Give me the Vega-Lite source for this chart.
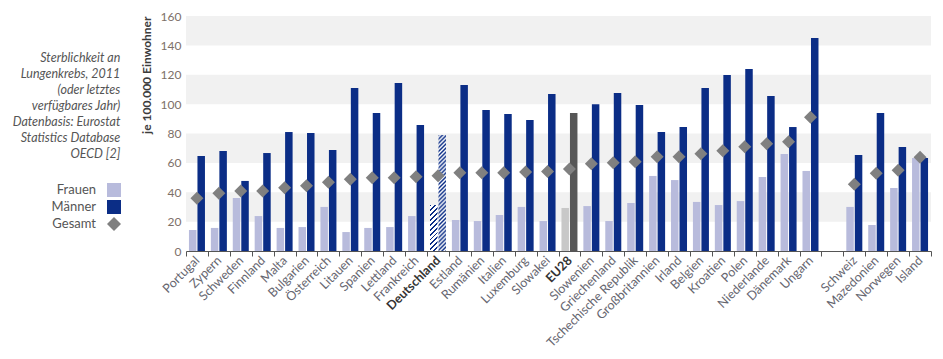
{
  "$schema": "https://vega.github.io/schema/vega-lite/v6.json",
  "autosize": "none",
  "width": 745,
  "height": 235,
  "padding": {"left": 186, "top": 16, "right": 12, "bottom": 108},
  "background": "white",
  "title": {
    "text": ["Sterblichkeit an", "Lungenkrebs, 2011", "(oder letztes", "verfügbares Jahr)", "Datenbasis: Eurostat", "Statistics Database", "OECD [2]"],
    "orient": "left",
    "angle": 0,
    "anchor": "end",
    "align": "right",
    "baseline": "top",
    "offset": 20,
    "font": "Lato",
    "fontStyle": "italic",
    "fontWeight": "normal",
    "fontSize": 12.5,
    "color": "#555555",
    "lineHeight": 16,
    "limit": 0,
    "dx": 141,
    "dy": 42
  },
  "datasets": {
    "werte": [
      {"land": "Portugal", "reihe": "Frauen", "wert": 14.3}, {"land": "Portugal", "reihe": "Männer", "wert": 64.7}, {"land": "Portugal", "reihe": "Gesamt", "wert": 35.9},
      {"land": "Zypern", "reihe": "Frauen", "wert": 15.7}, {"land": "Zypern", "reihe": "Männer", "wert": 68.1}, {"land": "Zypern", "reihe": "Gesamt", "wert": 39.3},
      {"land": "Schweden", "reihe": "Frauen", "wert": 36.1}, {"land": "Schweden", "reihe": "Männer", "wert": 47.7}, {"land": "Schweden", "reihe": "Gesamt", "wert": 40.8},
      {"land": "Finnland", "reihe": "Frauen", "wert": 23.8}, {"land": "Finnland", "reihe": "Männer", "wert": 66.7}, {"land": "Finnland", "reihe": "Gesamt", "wert": 40.8},
      {"land": "Malta", "reihe": "Frauen", "wert": 15.7}, {"land": "Malta", "reihe": "Männer", "wert": 81.0}, {"land": "Malta", "reihe": "Gesamt", "wert": 43.1},
      {"land": "Bulgarien", "reihe": "Frauen", "wert": 16.3}, {"land": "Bulgarien", "reihe": "Männer", "wert": 80.3}, {"land": "Bulgarien", "reihe": "Gesamt", "wert": 44.5},
      {"land": "Österreich", "reihe": "Frauen", "wert": 30.0}, {"land": "Österreich", "reihe": "Männer", "wert": 68.8}, {"land": "Österreich", "reihe": "Gesamt", "wert": 46.8},
      {"land": "Litauen", "reihe": "Frauen", "wert": 12.9}, {"land": "Litauen", "reihe": "Männer", "wert": 111.0}, {"land": "Litauen", "reihe": "Gesamt", "wert": 48.8},
      {"land": "Spanien", "reihe": "Frauen", "wert": 15.7}, {"land": "Spanien", "reihe": "Männer", "wert": 94.0}, {"land": "Spanien", "reihe": "Gesamt", "wert": 49.9},
      {"land": "Lettland", "reihe": "Frauen", "wert": 16.3}, {"land": "Lettland", "reihe": "Männer", "wert": 114.4}, {"land": "Lettland", "reihe": "Gesamt", "wert": 49.9},
      {"land": "Frankreich", "reihe": "Frauen", "wert": 23.8}, {"land": "Frankreich", "reihe": "Männer", "wert": 85.8}, {"land": "Frankreich", "reihe": "Gesamt", "wert": 50.6},
      {"land": "Deutschland", "reihe": "Frauen", "wert": 31.3}, {"land": "Deutschland", "reihe": "Männer", "wert": 79.0}, {"land": "Deutschland", "reihe": "Gesamt", "wert": 51.3},
      {"land": "Estland", "reihe": "Frauen", "wert": 21.1}, {"land": "Estland", "reihe": "Männer", "wert": 113.0}, {"land": "Estland", "reihe": "Gesamt", "wert": 53.3},
      {"land": "Rumänien", "reihe": "Frauen", "wert": 20.4}, {"land": "Rumänien", "reihe": "Männer", "wert": 96.0}, {"land": "Rumänien", "reihe": "Gesamt", "wert": 53.3},
      {"land": "Italien", "reihe": "Frauen", "wert": 24.5}, {"land": "Italien", "reihe": "Männer", "wert": 93.3}, {"land": "Italien", "reihe": "Gesamt", "wert": 53.3},
      {"land": "Luxemburg", "reihe": "Frauen", "wert": 30.0}, {"land": "Luxemburg", "reihe": "Männer", "wert": 89.2}, {"land": "Luxemburg", "reihe": "Gesamt", "wert": 53.8},
      {"land": "Slowakei", "reihe": "Frauen", "wert": 20.4}, {"land": "Slowakei", "reihe": "Männer", "wert": 106.9}, {"land": "Slowakei", "reihe": "Gesamt", "wert": 54.2},
      {"land": "EU28", "reihe": "Frauen", "wert": 29.3}, {"land": "EU28", "reihe": "Männer", "wert": 94.0}, {"land": "EU28", "reihe": "Gesamt", "wert": 55.8},
      {"land": "Slowenien", "reihe": "Frauen", "wert": 30.6}, {"land": "Slowenien", "reihe": "Männer", "wert": 100.0}, {"land": "Slowenien", "reihe": "Gesamt", "wert": 59.4},
      {"land": "Griechenland", "reihe": "Frauen", "wert": 20.4}, {"land": "Griechenland", "reihe": "Männer", "wert": 107.6}, {"land": "Griechenland", "reihe": "Gesamt", "wert": 60.1},
      {"land": "Tschechische Republik", "reihe": "Frauen", "wert": 32.7}, {"land": "Tschechische Republik", "reihe": "Männer", "wert": 99.4}, {"land": "Tschechische Republik", "reihe": "Gesamt", "wert": 60.8},
      {"land": "Großbritannien", "reihe": "Frauen", "wert": 51.1}, {"land": "Großbritannien", "reihe": "Männer", "wert": 81.0}, {"land": "Großbritannien", "reihe": "Gesamt", "wert": 64.2},
      {"land": "Irland", "reihe": "Frauen", "wert": 48.3}, {"land": "Irland", "reihe": "Männer", "wert": 84.4}, {"land": "Irland", "reihe": "Gesamt", "wert": 64.2},
      {"land": "Belgien", "reihe": "Frauen", "wert": 33.4}, {"land": "Belgien", "reihe": "Männer", "wert": 111.0}, {"land": "Belgien", "reihe": "Gesamt", "wert": 66.2},
      {"land": "Kroatien", "reihe": "Frauen", "wert": 31.3}, {"land": "Kroatien", "reihe": "Männer", "wert": 119.8}, {"land": "Kroatien", "reihe": "Gesamt", "wert": 68.3},
      {"land": "Polen", "reihe": "Frauen", "wert": 34.0}, {"land": "Polen", "reihe": "Männer", "wert": 123.9}, {"land": "Polen", "reihe": "Gesamt", "wert": 71.0},
      {"land": "Niederlande", "reihe": "Frauen", "wert": 50.4}, {"land": "Niederlande", "reihe": "Männer", "wert": 105.5}, {"land": "Niederlande", "reihe": "Gesamt", "wert": 73.0},
      {"land": "Dänemark", "reihe": "Frauen", "wert": 66.0}, {"land": "Dänemark", "reihe": "Männer", "wert": 84.4}, {"land": "Dänemark", "reihe": "Gesamt", "wert": 74.4},
      {"land": "Ungarn", "reihe": "Frauen", "wert": 54.5}, {"land": "Ungarn", "reihe": "Männer", "wert": 145.0}, {"land": "Ungarn", "reihe": "Gesamt", "wert": 91.0},
      {"land": "Schweiz", "reihe": "Frauen", "wert": 30.0}, {"land": "Schweiz", "reihe": "Männer", "wert": 65.4}, {"land": "Schweiz", "reihe": "Gesamt", "wert": 45.4},
      {"land": "Mazedonien", "reihe": "Frauen", "wert": 17.7}, {"land": "Mazedonien", "reihe": "Männer", "wert": 94.0}, {"land": "Mazedonien", "reihe": "Gesamt", "wert": 52.9},
      {"land": "Norwegen", "reihe": "Frauen", "wert": 42.9}, {"land": "Norwegen", "reihe": "Männer", "wert": 70.8}, {"land": "Norwegen", "reihe": "Gesamt", "wert": 54.9},
      {"land": "Island", "reihe": "Frauen", "wert": 63.3}, {"land": "Island", "reihe": "Männer", "wert": 63.3}, {"land": "Island", "reihe": "Gesamt", "wert": 63.8}
    ]
  },
  "layer": [
    {
      "data": {"values": [{"von": 20, "bis": 40}, {"von": 60, "bis": 80}, {"von": 100, "bis": 120}, {"von": 140, "bis": 160}]},
      "mark": {"type": "rect", "color": "#f1f1f1"},
      "encoding": {
        "y": {"field": "von", "type": "quantitative", "scale": {"domain": [0, 160], "nice": false}, "title": "je 100.000 Einwohner"},
        "y2": {"field": "bis"}
      }
    },
    {
      "data": {"name": "werte"},
      "transform": [{"filter": "datum.reihe !== 'Gesamt' && datum.land !== 'Deutschland' && datum.land !== 'EU28'"}],
      "mark": {"type": "bar"},
      "encoding": {
        "x": {
          "field": "land", "type": "nominal", "title": null,
          "scale": {"domain": ["Portugal", "Zypern", "Schweden", "Finnland", "Malta", "Bulgarien", "Österreich", "Litauen", "Spanien", "Lettland", "Frankreich", "Deutschland", "Estland", "Rumänien", "Italien", "Luxemburg", "Slowakei", "EU28", "Slowenien", "Griechenland", "Tschechische Republik", "Großbritannien", "Irland", "Belgien", "Kroatien", "Polen", "Niederlande", "Dänemark", "Ungarn", " ", "Schweiz", "Mazedonien", "Norwegen", "Island"], "paddingInner": 0, "paddingOuter": 0},
          "axis": {
            "labelFontWeight": {"condition": {"test": "datum.value === 'Deutschland' || datum.value === 'EU28'", "value": "bold"}, "value": "normal"},
            "labelColor": {"condition": {"test": "datum.value === 'Deutschland' || datum.value === 'EU28'", "value": "#333333"}, "value": "#666670"}
          }
        },
        "xOffset": {"field": "reihe", "type": "nominal", "scale": {"domain": ["Frauen", "Männer"], "paddingInner": 0.118, "paddingOuter": 0.347}},
        "y": {"field": "wert", "type": "quantitative", "title": "je 100.000 Einwohner"},
        "color": {
          "field": "reihe", "type": "nominal",
          "scale": {"domain": ["Frauen", "Männer", "Gesamt"], "range": ["#b8bbdc", "#0b2d86", "#808080"]},
          "legend": {
            "orient": "none", "legendX": -79, "legendY": 167, "title": null,
            "values": ["Frauen", "Männer", "Gesamt"],
            "symbolType": "square", "symbolSize": 196, "symbolStrokeWidth": 0, "symbolOpacity": 1,
            "labelAlign": "right", "labelOffset": -25, "labelFontSize": 13, "labelColor": "#555555", "labelFont": "Lato",
            "rowPadding": 3, "padding": 0,
            "encode": {"symbols": {"update": {"shape": {"signal": "datum.value === 'Gesamt' ? 'diamond' : 'square'"}}}}
          }
        }
      }
    },
    {
      "data": {"name": "werte"},
      "transform": [{"filter": "datum.reihe !== 'Gesamt' && datum.land === 'EU28'"}],
      "mark": {"type": "bar"},
      "encoding": {
        "x": {"field": "land", "type": "nominal", "title": null},
        "xOffset": {"field": "reihe", "type": "nominal"},
        "y": {"field": "wert", "type": "quantitative", "title": "je 100.000 Einwohner"},
        "color": {"condition": {"test": "datum.reihe === 'Frauen'", "value": "#c8c8c8"}, "value": "#575757"}
      }
    },
    {
      "data": {"name": "werte"},
      "transform": [{"filter": "datum.reihe === 'Frauen' && datum.land === 'Deutschland'"}],
      "mark": {"type": "bar", "color": {"gradient": "linear", "x1": 0, "y1": 0, "x2": 0.185, "y2": 1.133, "stops": [
        {"offset": 0, "color": "#0b2d86"}, {"offset": 0.0364, "color": "#0b2d86"}, {"offset": 0.0364, "color": "#ffffff"}, {"offset": 0.0909, "color": "#ffffff"},
        {"offset": 0.0909, "color": "#0b2d86"}, {"offset": 0.1273, "color": "#0b2d86"}, {"offset": 0.1273, "color": "#ffffff"}, {"offset": 0.1818, "color": "#ffffff"},
        {"offset": 0.1818, "color": "#0b2d86"}, {"offset": 0.2182, "color": "#0b2d86"}, {"offset": 0.2182, "color": "#ffffff"}, {"offset": 0.2727, "color": "#ffffff"},
        {"offset": 0.2727, "color": "#0b2d86"}, {"offset": 0.3091, "color": "#0b2d86"}, {"offset": 0.3091, "color": "#ffffff"}, {"offset": 0.3636, "color": "#ffffff"},
        {"offset": 0.3636, "color": "#0b2d86"}, {"offset": 0.4, "color": "#0b2d86"}, {"offset": 0.4, "color": "#ffffff"}, {"offset": 0.4545, "color": "#ffffff"},
        {"offset": 0.4545, "color": "#0b2d86"}, {"offset": 0.4909, "color": "#0b2d86"}, {"offset": 0.4909, "color": "#ffffff"}, {"offset": 0.5455, "color": "#ffffff"},
        {"offset": 0.5455, "color": "#0b2d86"}, {"offset": 0.5818, "color": "#0b2d86"}, {"offset": 0.5818, "color": "#ffffff"}, {"offset": 0.6364, "color": "#ffffff"},
        {"offset": 0.6364, "color": "#0b2d86"}, {"offset": 0.6727, "color": "#0b2d86"}, {"offset": 0.6727, "color": "#ffffff"}, {"offset": 0.7273, "color": "#ffffff"},
        {"offset": 0.7273, "color": "#0b2d86"}, {"offset": 0.7636, "color": "#0b2d86"}, {"offset": 0.7636, "color": "#ffffff"}, {"offset": 0.8182, "color": "#ffffff"},
        {"offset": 0.8182, "color": "#0b2d86"}, {"offset": 0.8545, "color": "#0b2d86"}, {"offset": 0.8545, "color": "#ffffff"}, {"offset": 0.9091, "color": "#ffffff"},
        {"offset": 0.9091, "color": "#0b2d86"}, {"offset": 0.9455, "color": "#0b2d86"}, {"offset": 0.9455, "color": "#ffffff"}, {"offset": 1, "color": "#ffffff"}
      ]}},
      "encoding": {
        "x": {"field": "land", "type": "nominal", "title": null},
        "xOffset": {"field": "reihe", "type": "nominal"},
        "y": {"field": "wert", "type": "quantitative", "title": "je 100.000 Einwohner"}
      }
    },
    {
      "data": {"name": "werte"},
      "transform": [{"filter": "datum.reihe === 'Männer' && datum.land === 'Deutschland'"}],
      "mark": {"type": "bar", "color": {"gradient": "linear", "x1": 0, "y1": 0, "x2": 0.0686, "y2": 1.0603, "stops": [
        {"offset": 0, "color": "#0b2d86"}, {"offset": 0.0167, "color": "#ffffff"}, {"offset": 0.0333, "color": "#0b2d86"}, {"offset": 0.05, "color": "#ffffff"},
        {"offset": 0.0667, "color": "#0b2d86"}, {"offset": 0.0833, "color": "#ffffff"}, {"offset": 0.1, "color": "#0b2d86"}, {"offset": 0.1167, "color": "#ffffff"},
        {"offset": 0.1333, "color": "#0b2d86"}, {"offset": 0.15, "color": "#ffffff"}, {"offset": 0.1667, "color": "#0b2d86"}, {"offset": 0.1833, "color": "#ffffff"},
        {"offset": 0.2, "color": "#0b2d86"}, {"offset": 0.2167, "color": "#ffffff"}, {"offset": 0.2333, "color": "#0b2d86"}, {"offset": 0.25, "color": "#ffffff"},
        {"offset": 0.2667, "color": "#0b2d86"}, {"offset": 0.2833, "color": "#ffffff"}, {"offset": 0.3, "color": "#0b2d86"}, {"offset": 0.3167, "color": "#ffffff"},
        {"offset": 0.3333, "color": "#0b2d86"}, {"offset": 0.35, "color": "#ffffff"}, {"offset": 0.3667, "color": "#0b2d86"}, {"offset": 0.3833, "color": "#ffffff"},
        {"offset": 0.4, "color": "#0b2d86"}, {"offset": 0.4167, "color": "#ffffff"}, {"offset": 0.4333, "color": "#0b2d86"}, {"offset": 0.45, "color": "#ffffff"},
        {"offset": 0.4667, "color": "#0b2d86"}, {"offset": 0.4833, "color": "#ffffff"}, {"offset": 0.5, "color": "#0b2d86"}, {"offset": 0.5167, "color": "#ffffff"},
        {"offset": 0.5333, "color": "#0b2d86"}, {"offset": 0.55, "color": "#ffffff"}, {"offset": 0.5667, "color": "#0b2d86"}, {"offset": 0.5833, "color": "#ffffff"},
        {"offset": 0.6, "color": "#0b2d86"}, {"offset": 0.6167, "color": "#ffffff"}, {"offset": 0.6333, "color": "#0b2d86"}, {"offset": 0.65, "color": "#ffffff"},
        {"offset": 0.6667, "color": "#0b2d86"}, {"offset": 0.6833, "color": "#ffffff"}, {"offset": 0.7, "color": "#0b2d86"}, {"offset": 0.7167, "color": "#ffffff"},
        {"offset": 0.7333, "color": "#0b2d86"}, {"offset": 0.75, "color": "#ffffff"}, {"offset": 0.7667, "color": "#0b2d86"}, {"offset": 0.7833, "color": "#ffffff"},
        {"offset": 0.8, "color": "#0b2d86"}, {"offset": 0.8167, "color": "#ffffff"}, {"offset": 0.8333, "color": "#0b2d86"}, {"offset": 0.85, "color": "#ffffff"},
        {"offset": 0.8667, "color": "#0b2d86"}, {"offset": 0.8833, "color": "#ffffff"}, {"offset": 0.9, "color": "#0b2d86"}, {"offset": 0.9167, "color": "#ffffff"},
        {"offset": 0.9333, "color": "#0b2d86"}, {"offset": 0.95, "color": "#ffffff"}, {"offset": 0.9667, "color": "#0b2d86"}, {"offset": 0.9833, "color": "#ffffff"},
        {"offset": 1, "color": "#0b2d86"}
      ]}},
      "encoding": {
        "x": {"field": "land", "type": "nominal", "title": null},
        "xOffset": {"field": "reihe", "type": "nominal"},
        "y": {"field": "wert", "type": "quantitative", "title": "je 100.000 Einwohner"}
      }
    },
    {
      "data": {"name": "werte"},
      "transform": [{"filter": "datum.reihe === 'Gesamt'"}],
      "mark": {"type": "point", "shape": "diamond", "filled": true, "size": 169, "opacity": 1},
      "encoding": {
        "x": {"field": "land", "type": "nominal", "title": null},
        "y": {"field": "wert", "type": "quantitative", "title": "je 100.000 Einwohner"},
        "color": {"field": "reihe", "type": "nominal"}
      }
    }
  ],
  "config": {
    "font": "Lato",
    "view": {"stroke": null},
    "axisX": {
      "labelAngle": -45, "labelAlign": "right", "labelBaseline": "middle", "labelFont": "Lato", "labelFontSize": 12.5,
      "labelPadding": 2, "domainColor": "#555555", "tickColor": "#555555", "tickSize": 5, "tickBand": "extent", "grid": false
    },
    "axisY": {
      "values": [0, 20, 40, 60, 80, 100, 120, 140, 160],
      "labelFont": "Lato", "labelFontSize": 12, "labelColor": "#7d7068", "labelPadding": 5,
      "domain": false, "ticks": false, "grid": false,
      "titleFont": "Lato", "titleFontWeight": "bold", "titleFontSize": 12, "titleColor": "#3c3c3c", "titleAnchor": "end", "titlePadding": 7
    }
  }
}
